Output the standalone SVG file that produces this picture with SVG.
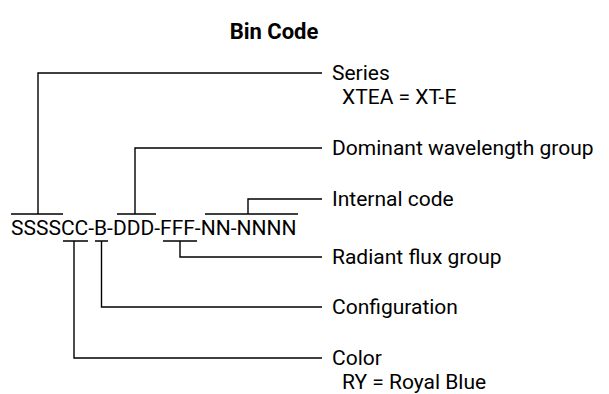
<svg xmlns="http://www.w3.org/2000/svg" width="609" height="394" viewBox="0 0 609 394">
<style>
text { font-family: Roboto, "Liberation Sans", sans-serif; fill: #000; }
.title { font-size: 22px; font-weight: bold; }
.code { font-size: 21px; }
.lbl { font-size: 21px; }
.ln { fill: none; stroke: #000; stroke-width: 1.4; }
</style>
<rect width="609" height="394" fill="#fff"/>
<text class="title" x="274" y="39" text-anchor="middle">Bin Code</text>
<g id="code">
<text class="code" x="11" y="235">SSSSCC-B-DDD-FFF-NN-NNNN</text>
</g>
<g id="connectors">
<path class="ln" d="M11 214H63M38 214V73H322"/>
<path class="ln" d="M117 214H156M135 214V148H322"/>
<path class="ln" d="M205 214H298M248 214V199H322"/>
<path class="ln" d="M163 241H197M180 241V257H322"/>
<path class="ln" d="M95 241H108M101.5 241V307H322"/>
<path class="ln" d="M63 241H88M74 241V358H322"/>
</g>
<g id="series"><text class="lbl" x="332" y="80">Series</text><text class="lbl" x="342" y="104">XTEA = XT-E</text></g>
<g id="dominant"><text class="lbl" x="332" y="155">Dominant wavelength group</text></g>
<g id="internal"><text class="lbl" x="332" y="206">Internal code</text></g>
<g id="radiant"><text class="lbl" x="332" y="264">Radiant flux group</text></g>
<g id="configuration"><text class="lbl" x="332" y="314">Configuration</text></g>
<g id="color"><text class="lbl" x="332" y="365">Color</text><text class="lbl" x="342" y="389">RY = Royal Blue</text></g>
</svg>
